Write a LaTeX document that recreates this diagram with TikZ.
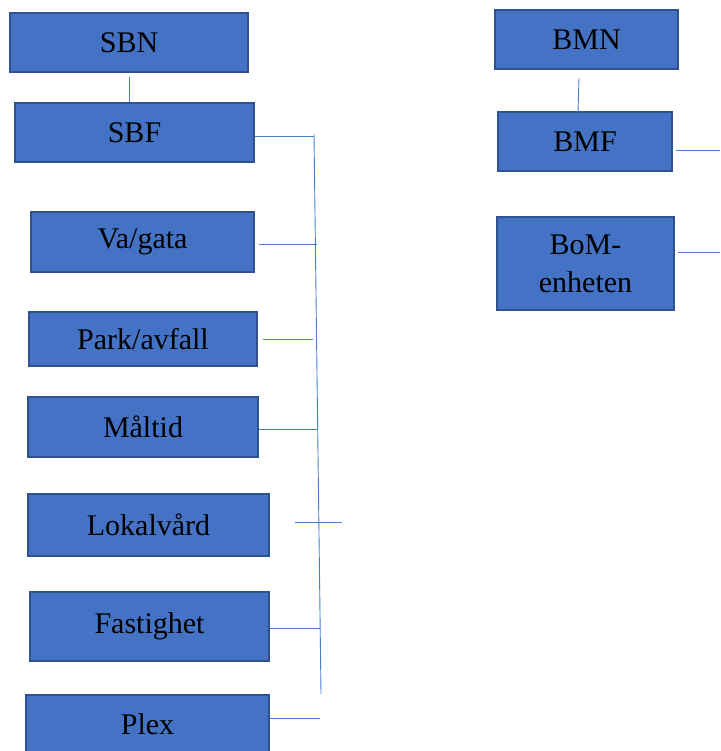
\documentclass[tikz,border=0pt]{standalone}
\usepackage{fontspec}
\setmainfont{Liberation Serif}
\definecolor{boxblue}{HTML}{4472C4}
\definecolor{boxedge}{HTML}{2F528F}
\definecolor{linkblue}{HTML}{4A7FD0}
\begin{document}
\begin{tikzpicture}[x=1pt,y=-1pt,
  unit/.style={draw=boxedge,fill=boxblue,line width=2.2pt,rectangle,inner sep=0pt,
    font=\fontsize{30}{38}\selectfont,align=center,text=black},
  link/.style={draw=linkblue,line width=0.9pt}]
\useasboundingbox (0,0) rectangle (720,751);
% left column
\node[unit,minimum width=238,minimum height=59] (sbn) at (129,42.5) {SBN};
\node[unit,minimum width=239,minimum height=59] (sbf) at (134.5,132.5) {SBF};
\node[unit,minimum width=223,minimum height=60] (va) at (142.5,242) {Va/gata};
\node[unit,minimum width=228,minimum height=54] (park) at (143,339) {Park/avfall};
\node[unit,minimum width=230,minimum height=60] (malt) at (143,427) {Måltid};
\node[unit,minimum width=241,minimum height=62] (lok) at (148.5,525) {Lokalvård};
\node[unit,minimum width=239,minimum height=69] (fast) at (149.5,626.5) {Fastighet};
\node[unit,minimum width=243,minimum height=58] (plex) at (147.5,724) {Plex};
% right column
\node[unit,minimum width=183,minimum height=59] (bmn) at (586.5,39.5) {BMN};
\node[unit,minimum width=174,minimum height=59] (bmf) at (585,141.5) {BMF};
\node[unit,minimum width=177,minimum height=93] (bom) at (585.5,263.5) {BoM-\\enheten};
% coordinates
\coordinate (sbnLow) at (129,77);
\coordinate (bmnLow) at (579,78);
\coordinate (bmfTop) at (578,112);
\coordinate (spTop) at (314,134);
\coordinate (spBot) at (321,694);
\coordinate (jSbf) at (314,136);
\coordinate (jVa) at (316.5,244);
\coordinate (jPark) at (313,339);
\coordinate (jMalt) at (318,429);
\coordinate (lokA) at (295,522);
\coordinate (lokB) at (342,522);
\coordinate (jFast) at (320,628);
\coordinate (jPlex) at (320,718);
\coordinate (bmfEnd) at (720,150);
\coordinate (bomEnd) at (720,252);
% connectors
\draw[link] (sbnLow) -- (sbnLow |- sbf.north);
\draw[link] (spTop) -- (spBot);
\draw[link] (sbf.east |- jSbf) -- (jSbf);
\draw[link,shorten <=4pt] (va.east |- jVa) -- (jVa);
\draw[link,shorten <=5pt] (park.east |- jPark) -- (jPark);
\draw[link] (malt.east |- jMalt) -- (jMalt);
\draw[link] (lokA) -- (lokB);
\draw[link] (fast.east |- jFast) -- (jFast);
\draw[link] (plex.east |- jPlex) -- (jPlex);
\draw[link] (bmnLow) -- (bmfTop);
\draw[link,shorten <=3pt] (bmf.east |- bmfEnd) -- (bmfEnd);
\draw[link,shorten <=3pt] (bom.east |- bomEnd) -- (bomEnd);
\end{tikzpicture}
\end{document}
